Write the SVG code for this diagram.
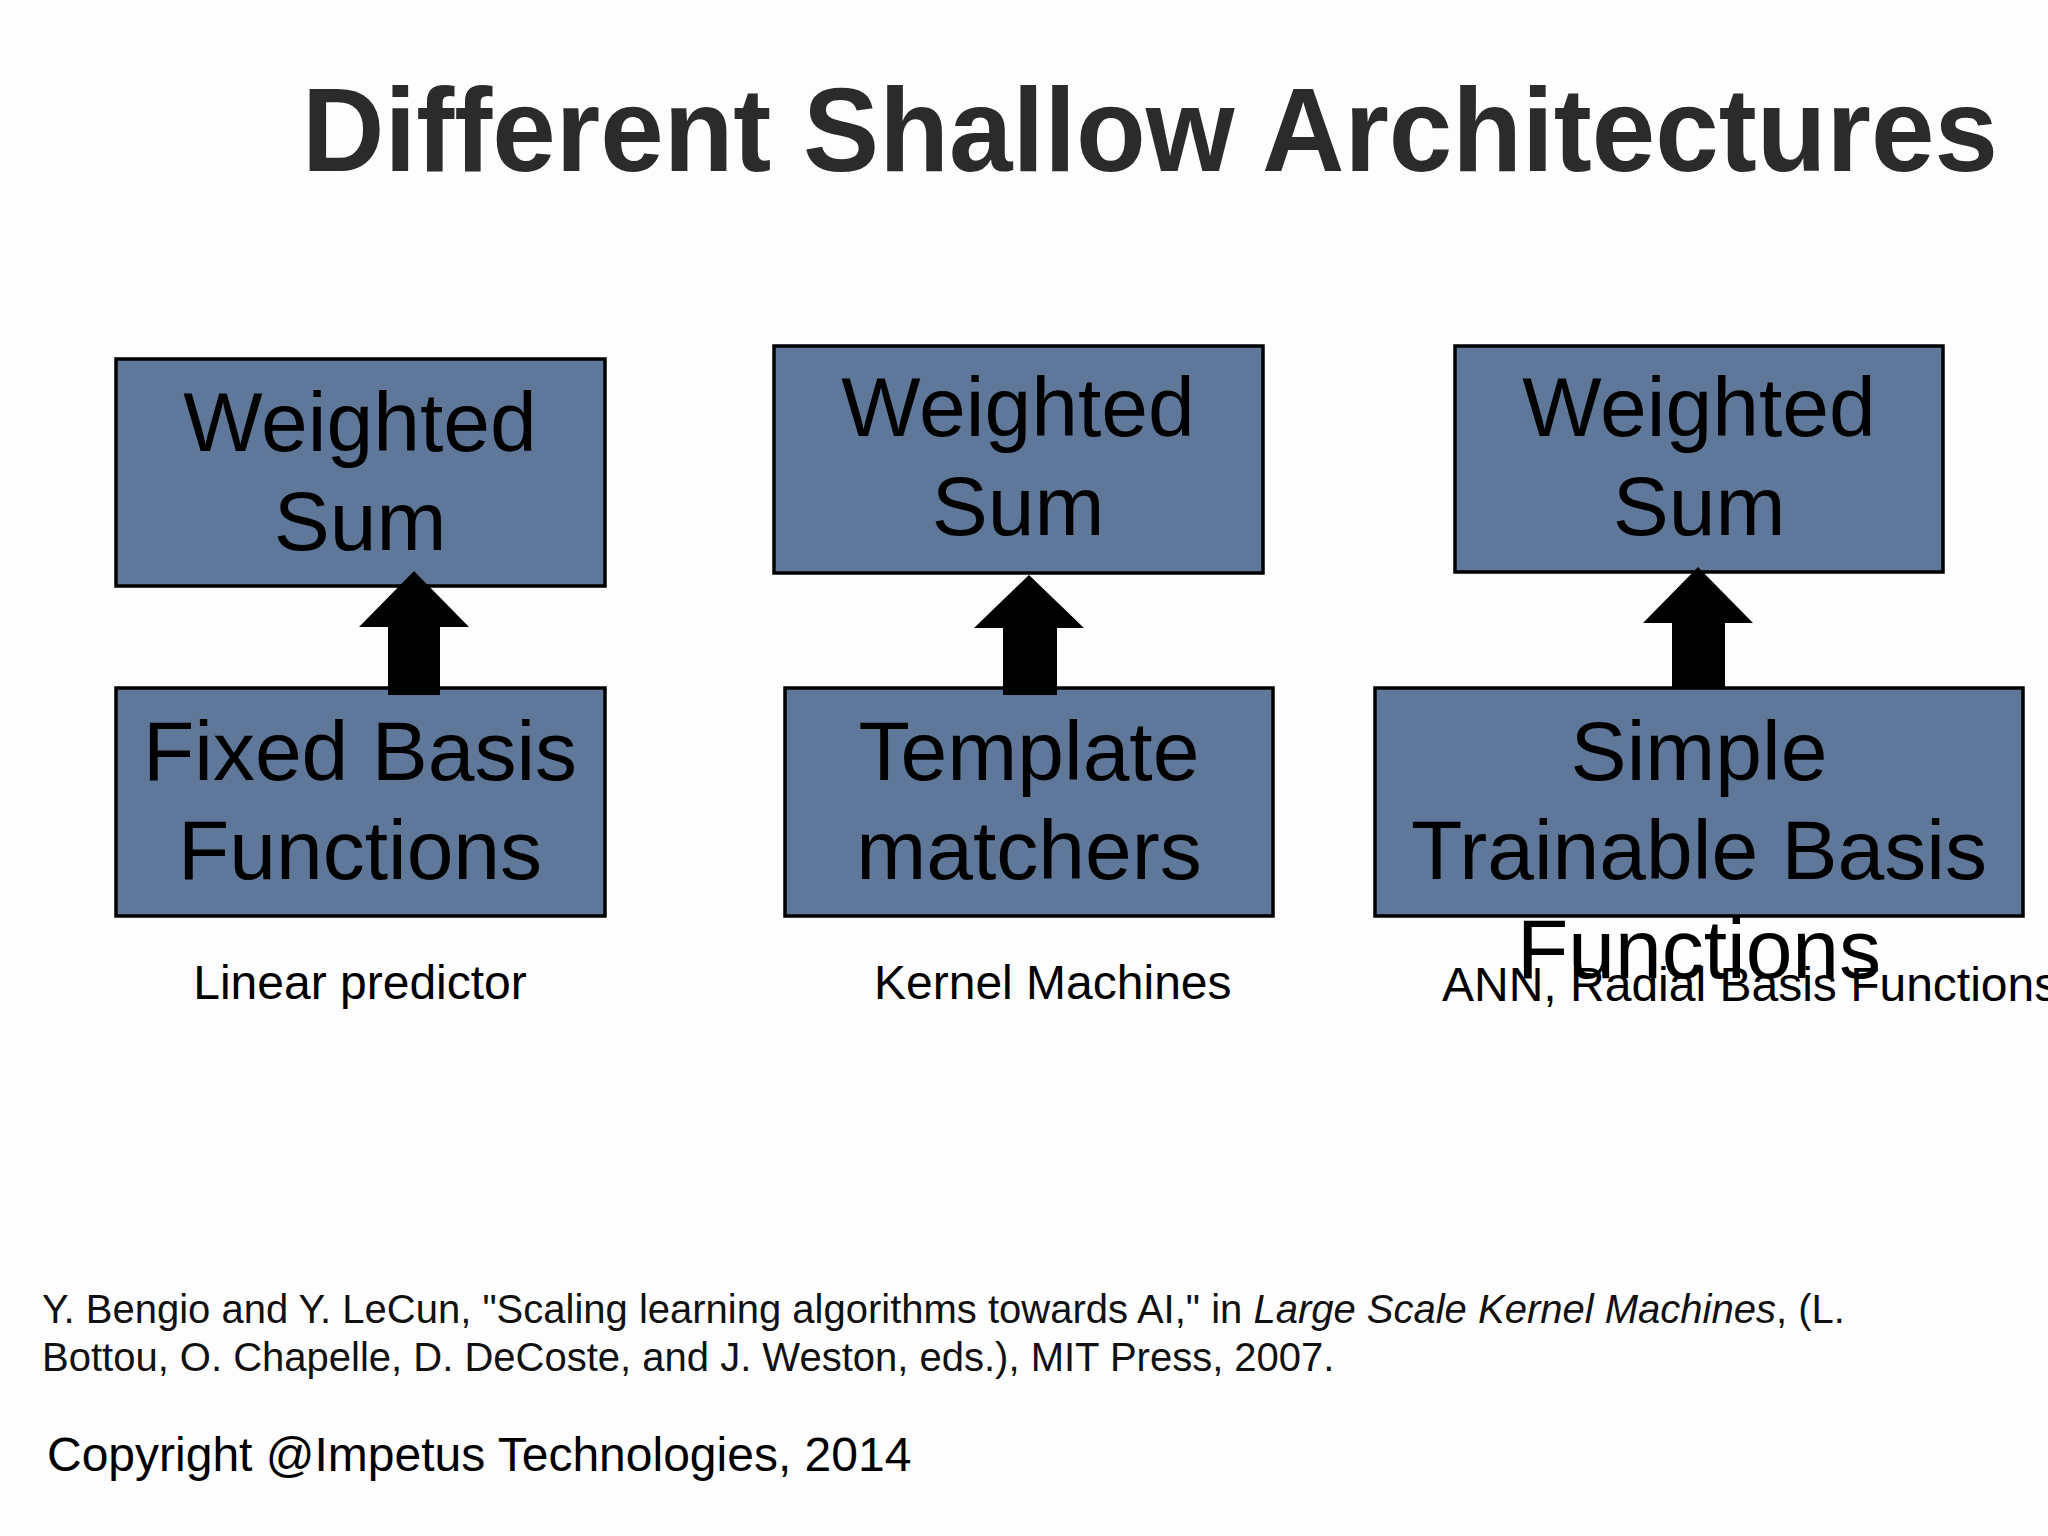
<svg xmlns="http://www.w3.org/2000/svg" width="2048" height="1536" viewBox="0 0 2048 1536">
<style>
.box{fill:#5f7899;stroke:#000;stroke-width:3.5}
.bt{font-family:"Liberation Sans",Arial,sans-serif;font-size:84px;fill:#000;text-anchor:middle}
.lbl{font-family:"Liberation Sans",Arial,sans-serif;font-size:48px;fill:#000}
.ref{font-family:"Liberation Sans",Arial,sans-serif;font-size:40px;fill:#111}
.arrow{fill:#000}
</style>
<rect x="0" y="0" width="2048" height="1536" fill="#fdfdfd"/>
<text x="302" y="171" font-family="Liberation Sans,Arial,sans-serif" font-weight="bold" font-size="119" fill="#2b2b2b" textLength="1696" lengthAdjust="spacingAndGlyphs">Different Shallow Architectures</text>

<g id="n1-top"><rect class="box" x="116" y="359" width="489" height="227"/><text class="bt" x="360" y="451">Weighted</text><text class="bt" x="360" y="550">Sum</text></g>
<g id="n1-bottom"><rect class="box" x="116" y="688" width="489" height="228"/><text class="bt" x="360" y="780">Fixed Basis</text><text class="bt" x="360" y="879">Functions</text></g>

<g id="n2-top"><rect class="box" x="774" y="346" width="489" height="227"/><text class="bt" x="1018" y="436">Weighted</text><text class="bt" x="1018" y="535">Sum</text></g>
<g id="n2-bottom"><rect class="box" x="785" y="688" width="488" height="228"/><text class="bt" x="1029" y="780">Template</text><text class="bt" x="1029" y="879">matchers</text></g>

<g id="n3-top"><rect class="box" x="1455" y="346" width="488" height="226"/><text class="bt" x="1699" y="436">Weighted</text><text class="bt" x="1699" y="535">Sum</text></g>
<g id="n3-bottom"><rect class="box" x="1375" y="688" width="648" height="228"/><text class="bt" x="1699" y="780">Simple</text><text class="bt" x="1699" y="879">Trainable Basis</text><text class="bt" x="1699" y="978">Functions</text></g>

<g id="connectors">
<polygon class="arrow" points="414,571 469,627 440,627 440,695 388,695 388,627 359,627"/>
<polygon class="arrow" points="1029,575 1084,628 1057,628 1057,695 1003,695 1003,628 974,628"/>
<polygon class="arrow" points="1698,567 1753,623 1725,623 1725,688 1672,688 1672,623 1643,623"/>
</g>

<text class="lbl" x="360" y="999" text-anchor="middle">Linear predictor</text>
<text class="lbl" x="874" y="999">Kernel Machines</text>
<text class="lbl" x="1442" y="1001">ANN, Radial Basis Functions</text>

<text class="ref" x="42" y="1323">Y. Bengio and Y. LeCun, "Scaling learning algorithms towards AI," in <tspan font-style="italic">Large Scale Kernel Machines</tspan>, (L.</text>
<text class="ref" x="42" y="1371">Bottou, O. Chapelle, D. DeCoste, and J. Weston, eds.), MIT Press, 2007.</text>

<text class="lbl" x="47" y="1471">Copyright @Impetus Technologies, 2014</text>
</svg>
